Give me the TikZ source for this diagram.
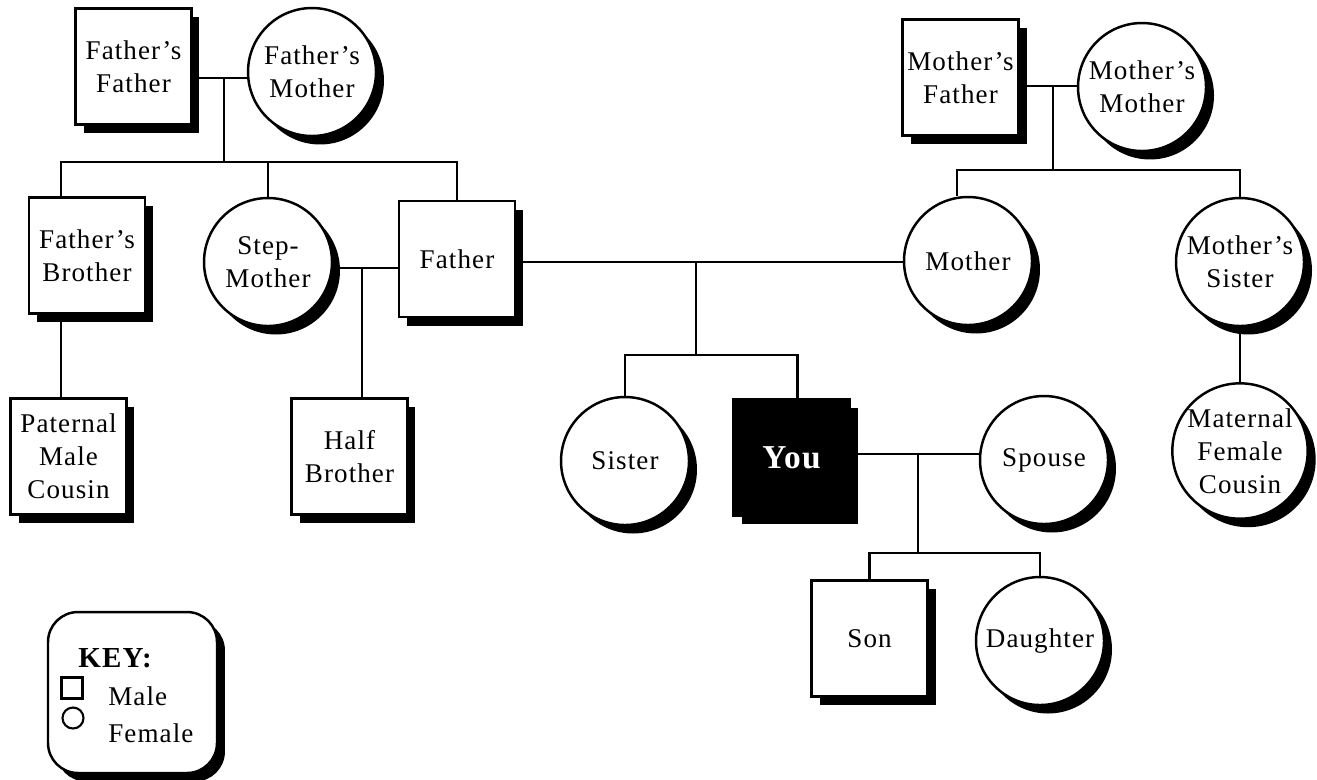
\documentclass[tikz,border=0pt]{standalone}
\usepackage{fontspec}
\setmainfont{Liberation Serif}[LetterSpace=4]
\usetikzlibrary{shadows}
\tikzset{
	person/.style={draw, line width=1.4pt, fill=white, inner sep=0pt, align=center,
		font=\fontsize{15.4}{18.8}\selectfont,
		drop shadow={shadow xshift=0.16cm, shadow yshift=-0.17cm, fill=black, opacity=1}},
	male/.style={person, rectangle, minimum size=2.32cm},
	female/.style={person, circle, minimum size=2.56cm},
	link/.style={line width=1.3pt},
	keytext/.style={font=\fontsize{15.4}{18.8}\selectfont, inner sep=0pt},
}
\begin{document}
\begin{tikzpicture}[x=0.02cm, y=-0.02cm]
		\useasboundingbox (0,0) rectangle (1317,779);
		
		% males
		\foreach \n/\x/\y/\t in {ff/133.5/66.5/{Father’s\\Father}, fb/87/255.5/{Father’s\\Brother},
				fa/457/259/{Father}, pc/68.5/456.5/{Paternal\\Male\\Cousin}, hb/349.5/456.5/{Half\\Brother},
				mf/960.5/77.5/{Mother’s\\Father}, so/869.5/638.5/{Son}}{
			\node[male] (\n) at (\x,\y) {\t};
		}
		\node[male, fill=black, text=white, font=\fontsize{19}{22}\bfseries\selectfont] (yo) at (791.5,457.5) {You};
		
		% females
		\foreach \n/\x/\y/\t in {fm/312/72/{Father’s\\Mother}, sm/268/262/{Step-\\Mother},
				mm/1142/87/{Mother’s\\Mother}, mo/968/261/{Mother}, ms/1240/262/{Mother’s\\Sister},
				mc/1240/451/{Maternal\\Female\\Cousin}, si/625/461/{Sister}, sp/1044/460/{Spouse},
				da/1040/641/{Daughter}}{
			\node[female] (\n) at (\x,\y) {\t};
		}
		
		% father's side
		\coordinate (pgx) at (224,78);
		\coordinate (pgb) at (224,162);
		\draw[link] (ff.east |- pgx) -- (fm.west |- pgx);
		\draw[link] (pgx) -- (pgb);
		\draw[link] ([xshift=-0.52cm]fb.north) |- (pgb) -| (fa.north);
		\draw[link] (sm.north) -- (sm.north |- pgb);
		\draw[link] ([xshift=-0.52cm]fb.south) -- ([xshift=-0.52cm]fb.south |- pc.north);
		\coordinate (smx) at (362,268);
		\draw[link] (sm.east |- smx) -- (fa.west |- smx);
		\draw[link] (smx) -- (smx |- hb.north);
		
		% parents
		\coordinate (pmx) at (696,262);
		\coordinate (kb) at (696,355);
		\draw[link] (fa.east |- pmx) -- (mo.west |- pmx);
		\draw[link] (pmx) -- (kb);
		\draw[link] (si.north) |- (kb) -| ([xshift=0.12cm]yo.north);
		
		% mother's side
		\coordinate (mgx) at (1053,86);
		\coordinate (mgb) at (1053,170);
		\draw[link] (mf.east |- mgx) -- (mm.west |- mgx);
		\draw[link] (mgx) -- (mgb);
		\draw[link] ([xshift=-0.22cm]mo.north) |- (mgb) -| (ms.north);
		\draw[link] (ms.south) -- (mc.north);
		
		% you and spouse
		\coordinate (ysx) at (918,454);
		\coordinate (ysb) at (918,553);
		\draw[link] (yo.east |- ysx) -- (sp.west |- ysx);
		\draw[link] (ysx) -- (ysb);
		\draw[link] (so.north) |- (ysb) -| (da.north);
		
		% key
		\node[draw, line width=1.4pt, fill=white, rounded corners=0.6cm, minimum width=3.38cm, minimum height=3.22cm,
			drop shadow={shadow xshift=0.16cm, shadow yshift=-0.17cm, fill=black, opacity=1}] (key) at (132.5,692.5) {};
		\node[keytext, font=\fontsize{16.5}{18.8}\bfseries\selectfont, anchor=base west] (keyhd) at (78,667) {KEY:};
		\node[draw, line width=1.2pt, minimum size=0.42cm, inner sep=0pt] (ksq) at (72,688) {};
		\node[draw, circle, line width=1.2pt, minimum size=0.42cm, inner sep=0pt] (kci) at (73,718) {};
		\node[keytext, anchor=base west] (kmale) at (108,705) {Male};
		\node[keytext, anchor=base west] (kfemale) at (108,742) {Female};
\end{tikzpicture}
\end{document}
